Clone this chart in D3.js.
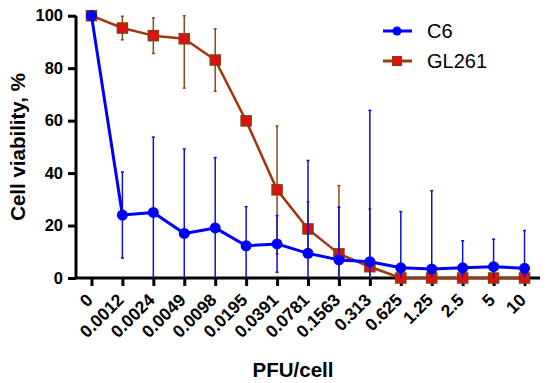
<!DOCTYPE html>
<html>
<head>
<meta charset="utf-8">
<script src="https://cdn.jsdelivr.net/npm/d3@7"></script>
<style>
  body { margin: 0; background: #fff; }
  text { font-family: Arial, "Liberation Sans", sans-serif; }
</style>
</head>
<body>
<div id="chart"></div>
<script>
// doses (PFU/cell) and viability values
const doses = ["0", "0.0012", "0.0024", "0.0049", "0.0098", "0.0195", "0.0391", "0.0781", "0.1563", "0.313", "0.625", "1.25", "2.5", "5", "10"];
const c6 = [100, 24.0, 25.0, 17.0, 19.1, 12.3, 13.0, 9.4, 6.9, 6.2, 3.9, 3.4, 3.9, 4.3, 3.7];
const c6Err = [0, 16.4, 28.7, 32.2, 26.8, 14.9, 10.8, 35.4, 20.1, 57.7, 21.4, 29.9, 10.3, 10.5, 14.4];
const gl261 = [100, 95.3, 92.4, 91.2, 83.1, 59.9, 33.6, 18.7, 9.2, 4.3, 0, 0, 0, 0, 0];
const gl261Err = [0, 4.5, 6.8, 18.8, 11.9, 1, 24.4, 10.4, 26, 22, 0, 0, 0, 0, 0];
const yTicks = [0, 20, 40, 60, 80, 100];

const width = 550, height = 383;
const svg = d3.select("#chart").append("svg")
    .attr("width", width)
    .attr("height", height);

const x = d3.scalePoint().domain(doses).range([76, 540]).padding(0.5);
const y = d3.scaleLinear().domain([0, 100]).range([278, 15.7]);

// y axis
const yAxis = svg.append("g")
    .attr("transform", "translate(76,0)")
    .call(d3.axisLeft(y).tickValues(yTicks).tickSize(8).tickPadding(5));
yAxis.select(".domain").attr("stroke", "#000").attr("stroke-width", 3)
    .attr("d", `M0,${y(0)}V${y(100)}`);
yAxis.selectAll(".tick line").attr("stroke", "#000").attr("stroke-width", 3);
yAxis.selectAll(".tick text")
    .attr("font-size", 16.5).attr("font-weight", "bold").attr("fill", "#000")
    .attr("font-family", "Arial, 'Liberation Sans', sans-serif");

// x axis
const xAxis = svg.append("g")
    .attr("transform", `translate(0,${y(0)})`)
    .call(d3.axisBottom(x).tickSize(8).tickSizeOuter(0));
xAxis.select(".domain").attr("stroke", "#000").attr("stroke-width", 3)
    .attr("d", "M76,0H540");
xAxis.selectAll(".tick line").attr("stroke", "#000").attr("stroke-width", 3);
xAxis.selectAll(".tick text")
    .attr("font-size", 17.5).attr("font-weight", "bold").attr("fill", "#000")
    .attr("font-family", "Arial, 'Liberation Sans', sans-serif")
    .attr("text-anchor", "end")
    .attr("dy", 0)
    .attr("y", 0)
    .attr("transform", "translate(2,23) rotate(-45)");

// axis titles
svg.append("text")
    .attr("transform", "translate(25,147) rotate(-90)")
    .attr("text-anchor", "middle")
    .attr("font-size", 20.5).attr("font-weight", "bold")
    .text("Cell viability, %");

svg.append("text")
    .attr("x", 293).attr("y", 377)
    .attr("text-anchor", "middle")
    .attr("font-size", 20.5).attr("font-weight", "bold")
    .text("PFU/cell");

const clip = v => Math.max(0, Math.min(100, v));

function drawSeries(vals, errs, color, barColor, lineW, marker) {
    const g = svg.append("g");
    // error bars
    doses.forEach((d, i) => {
        if (!errs[i]) return;
        const top = y(clip(vals[i] + errs[i]));
        const bot = y(clip(vals[i] - errs[i]));
        g.append("line")
            .attr("x1", x(d)).attr("x2", x(d))
            .attr("y1", top).attr("y2", bot)
            .attr("stroke", barColor).attr("stroke-width", 1.5);
        g.append("line")
            .attr("x1", x(d) - 1.5).attr("x2", x(d) + 1.5)
            .attr("y1", top).attr("y2", top)
            .attr("stroke", barColor).attr("stroke-width", 1.5);
        if (vals[i] - errs[i] > 0) {
            g.append("line")
                .attr("x1", x(d) - 1.5).attr("x2", x(d) + 1.5)
                .attr("y1", bot).attr("y2", bot)
                .attr("stroke", barColor).attr("stroke-width", 1.5);
        }
    });
    const line = d3.line().x((v, i) => x(doses[i])).y(v => y(v));
    g.append("path")
        .datum(vals)
        .attr("d", line)
        .attr("fill", "none")
        .attr("stroke", color)
        .attr("stroke-width", lineW)
        .attr("stroke-linejoin", "round");
    marker(g, vals.map((v, i) => [x(doses[i]), y(v)]));
}

const squares = (g, pts) => g.selectAll("rect.m").data(pts).join("rect")
    .attr("x", p => p[0] - 5).attr("y", p => p[1] - 5)
    .attr("width", 10).attr("height", 10)
    .attr("fill", "#e01010").attr("stroke", "#8a3a10").attr("stroke-width", 1.5);

const circles = (g, pts) => g.selectAll("circle.m").data(pts).join("circle")
    .attr("cx", p => p[0]).attr("cy", p => p[1]).attr("r", 5.5)
    .attr("fill", "#0000ff");

drawSeries(gl261, gl261Err, "#a0380f", "#8a4a1a", 2.5, squares);
drawSeries(c6, c6Err, "#0000ff", "#1010d0", 3, circles);

// legend
const legend = svg.append("g");
const items = [
    { name: "C6", y: 31, color: "#0000ff", m: "circle" },
    { name: "GL261", y: 61, color: "#a0380f", m: "rect" }
];
items.forEach(it => {
    legend.append("line")
        .attr("x1", 383).attr("x2", 412)
        .attr("y1", it.y).attr("y2", it.y)
        .attr("stroke", it.color).attr("stroke-width", 3);
    if (it.m === "circle") {
        legend.append("circle").attr("cx", 397).attr("cy", it.y).attr("r", 4.5).attr("fill", "#0000ff");
    } else {
        legend.append("rect").attr("x", 392.5).attr("y", it.y - 4.5).attr("width", 9).attr("height", 9)
            .attr("fill", "#e01010").attr("stroke", "#8a3a10").attr("stroke-width", 1);
    }
    legend.append("text")
        .attr("x", 427).attr("y", it.y + 7)
        .attr("font-size", 20)
        .text(it.name);
});
</script>
</body>
</html>
